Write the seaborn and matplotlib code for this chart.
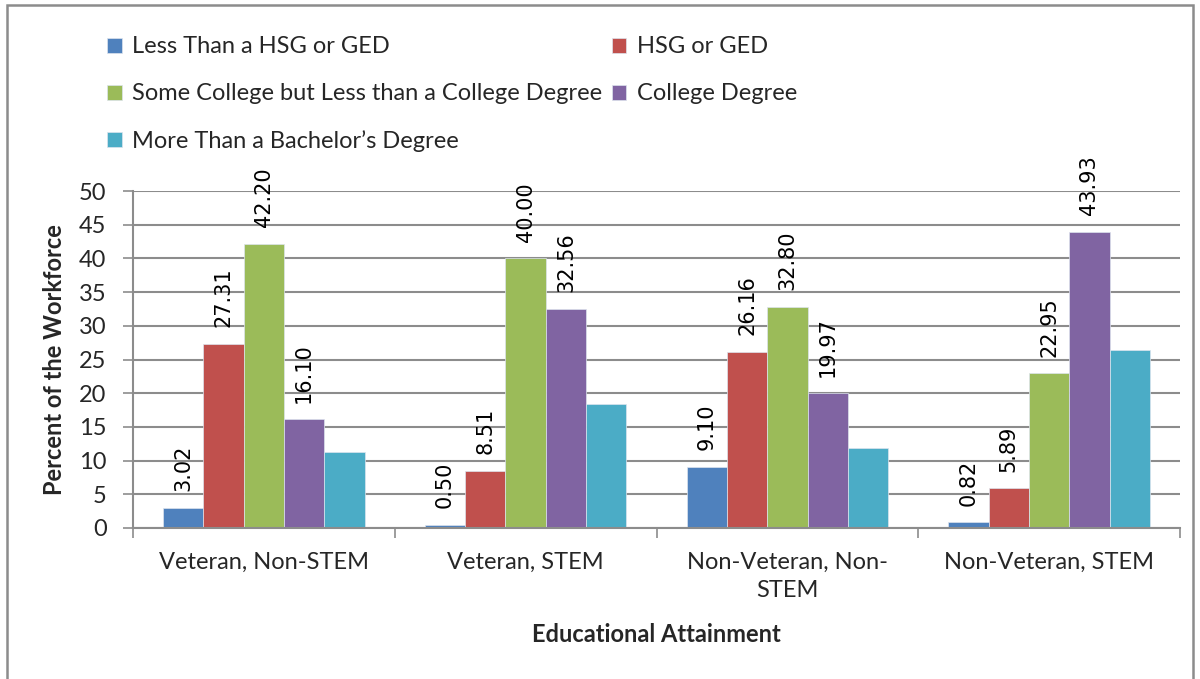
import pandas as pd
import matplotlib.pyplot as plt
import seaborn as sns
from matplotlib.patches import Rectangle

# data
groups = ["Veteran, Non-STEM", "Veteran, STEM", "Non-Veteran, Non-\nSTEM", "Non-Veteran, STEM"]
levels = ["Less Than a HSG or GED", "HSG or GED", "Some College but Less than a College Degree",
          "College Degree", "More Than a Bachelor\u2019s Degree"]
less_hsg = [3.02, 0.50, 9.10, 0.82]
hsg_ged = [27.31, 8.51, 26.16, 5.89]
some_college = [42.20, 40.00, 32.80, 22.95]
college = [16.10, 32.56, 19.97, 43.93]
more_bach = [11.3, 18.4, 11.9, 26.4]
colors = ["#4F81BD", "#C0504D", "#9BBB59", "#8064A2", "#4BACC6"]

series = [less_hsg, hsg_ged, some_college, college, more_bach]
rows = []
for lev, vals in zip(levels, series):
    for g, v in zip(groups, vals):
        rows.append({"group": g, "level": lev, "value": v})
df = pd.DataFrame(rows)

sns.set_style("white")
plt.rcParams["font.family"] = ["Lato", "DejaVu Sans"]
fs = 17

fig = plt.figure(figsize=(12, 6.79), dpi=100)
ax = fig.add_axes([133 / 1200, 1 - 528 / 679, (1180 - 133) / 1200, (528 - 191) / 679])

sns.barplot(data=df, x="group", y="value", hue="level", order=groups, hue_order=levels,
            palette=colors, width=0.77, saturation=1, edgecolor="#dde4ee", linewidth=0.5,
            ax=ax, legend=True)

# value labels on the first four series
for cont in ax.containers[:4]:
    ax.bar_label(cont, fmt="%.2f", rotation=90, padding=12, fontsize=15,
                 family="DejaVu Sans", color="black", clip_on=False)

ax.set_ylim(0, 50)
ax.set_xlim(-0.5, 3.5)
ax.set_yticks(range(0, 51, 5))
ax.yaxis.grid(True, color="#8c8c8c", linewidth=1.5)
ax.set_axisbelow(True)
ax.tick_params(axis="y", labelsize=fs, length=7, width=1.2, color="#8c8c8c", left=True, pad=12)

# category labels at centres, tick marks at group boundaries
ax.set_xticks([i - 0.5 for i in range(5)])
ax.set_xticklabels([])
ax.set_xticks(range(4), minor=True)
ax.set_xticklabels(groups, minor=True, fontsize=fs, linespacing=1.45)
ax.tick_params(axis="x", which="major", length=7, width=1.2, color="#8c8c8c", bottom=True)
ax.tick_params(axis="x", which="minor", length=0, pad=17)

for s in ["top", "right"]:
    ax.spines[s].set_visible(False)
for s in ["left", "bottom"]:
    ax.spines[s].set_color("#8c8c8c")
    ax.spines[s].set_linewidth(1.5)

ax.set_xlabel("Educational Attainment", fontsize=fs, fontweight="bold", labelpad=16)
ax.set_ylabel("Percent of the Workforce", fontsize=fs, fontweight="bold", labelpad=9)

handles, labels = ax.get_legend_handles_labels()
ax.get_legend().remove()
order = [0, 2, 4, 1, 3]
fig.legend([handles[i] for i in order], [labels[i] for i in order],
           loc="upper left", bbox_to_anchor=(98 / 1200, 1 - 27 / 679), ncol=2, frameon=False,
           fontsize=fs, handlelength=0.6, handleheight=0.6, handletextpad=0.45,
           columnspacing=0.4, labelspacing=1.1, borderaxespad=0)

# outer chart frame
fig.patches.append(Rectangle((7 / 1200, -0.01), 1186 / 1200, 1 - 5 / 679 + 0.01,
                             transform=fig.transFigure, fill=False,
                             edgecolor="#8c8c8c", linewidth=1.8))

fig.savefig("out.png", dpi=100)
